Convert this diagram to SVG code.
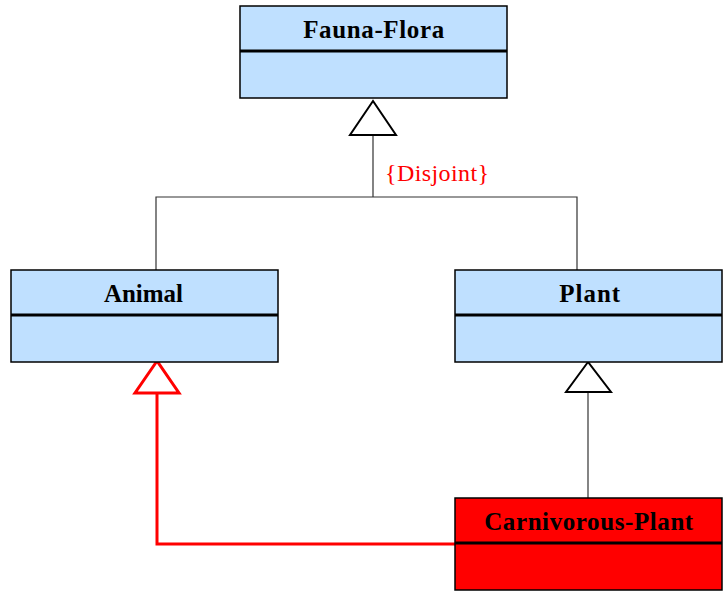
<svg xmlns="http://www.w3.org/2000/svg" width="723" height="591" viewBox="0 0 723 591">
<style>
.box{fill:#bfe0ff;stroke:#000;stroke-width:1.5}
.red{fill:#ff0000;stroke:#000;stroke-width:1.5}
.div{stroke:#000;stroke-width:3}
.t{font-family:"Liberation Serif","Times New Roman",serif;font-weight:bold;font-size:25px;fill:#000;text-anchor:middle}
.ln{fill:none;stroke:#333;stroke-width:1.2}
.tri{fill:#fff;stroke:#000;stroke-width:2}
.rl{fill:none;stroke:#ff0000;stroke-width:3}
.rtri{fill:#fff;stroke:#ff0000;stroke-width:3}
</style>
<rect width="723" height="591" fill="#fff"/>
<g id="connectors">
<path class="ln" d="M373 135 V197 M156 270 V197 H577 V270"/>
<polygon class="tri" points="373,101 350,135 396,135"/>
<text x="385" y="181" font-family="Liberation Serif,Times New Roman,serif" font-size="24" fill="#ff0000" textLength="104" lengthAdjust="spacing">{Disjoint}</text>
<path class="ln" d="M588 392 V498"/>
<polygon class="tri" points="588,362 566,392 611,392"/>
<path class="rl" d="M455 544 H157 V393"/>
<polygon class="rtri" points="157,361 135,393 179,393"/>
</g>
<g id="fauna-flora">
<rect class="box" x="240" y="6" width="267" height="92"/>
<line class="div" x1="240" y1="51" x2="507" y2="51"/>
<text class="t" x="373.7" y="37.5" textLength="141" lengthAdjust="spacing">Fauna-Flora</text>
</g>
<g id="animal">
<rect class="box" x="11" y="270" width="267" height="92"/>
<line class="div" x1="11" y1="315" x2="278" y2="315"/>
<text class="t" x="143.4" y="302" textLength="79" lengthAdjust="spacing">Animal</text>
</g>
<g id="plant">
<rect class="box" x="455" y="270" width="267" height="92"/>
<line class="div" x1="455" y1="315" x2="722" y2="315"/>
<text class="t" x="589.7" y="302" textLength="61" lengthAdjust="spacing">Plant</text>
</g>
<g id="carnivorous-plant">
<rect class="red" x="455" y="498" width="267" height="92"/>
<line class="div" x1="455" y1="543" x2="722" y2="543"/>
<text class="t" x="588.7" y="530" textLength="209" lengthAdjust="spacing">Carnivorous-Plant</text>
</g>
</svg>
